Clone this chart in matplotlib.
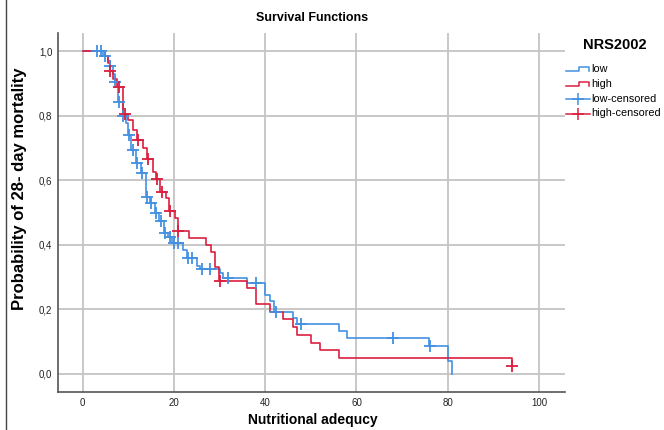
import matplotlib
matplotlib.use("Agg")
import matplotlib.pyplot as plt
from matplotlib.ticker import FuncFormatter

plt.rcParams['font.family'] = ['Liberation Sans', 'DejaVu Sans']

# Kaplan-Meier steps (time, survival after the step)
low_t = [0, 4.5, 5.6, 6.0, 6.6, 7.0, 7.8, 8.8, 9.6, 10.0, 10.7, 11.7, 12.7, 13.8,
         14.8, 15.8, 16.8, 17.8, 18.8, 19.6, 21.9, 22.8, 25.1, 25.8, 30.0, 30.7,
         36.0, 40.0, 41.1, 42.0, 46.0, 46.9, 56.1, 58.0, 76.0, 80.0, 80.9]
low_s = [1.0, 0.985, 0.970, 0.954, 0.930, 0.905, 0.841, 0.800, 0.776, 0.740, 0.695,
         0.652, 0.621, 0.549, 0.530, 0.499, 0.475, 0.435, 0.425, 0.405, 0.384, 0.358,
         0.334, 0.325, 0.314, 0.296, 0.281, 0.245, 0.227, 0.193, 0.172, 0.154, 0.133,
         0.110, 0.085, 0.041, 0.0]
low_cens_t = [3.2, 4.0, 4.9, 6.1, 7.1, 8.0, 8.9, 10.2, 11.0, 12.0, 13.1, 14.0, 15.0,
              16.0, 17.2, 18.0, 19.1, 20.0, 20.9, 23.0, 23.9, 26.1, 27.9, 31.9, 38.0,
              42.3, 47.9, 68.0, 76.2]
low_cens_s = [1.0, 1.0, 0.985, 0.954, 0.905, 0.841, 0.800, 0.740, 0.695, 0.652, 0.621,
              0.549, 0.530, 0.499, 0.475, 0.435, 0.425, 0.405, 0.405, 0.358, 0.358,
              0.325, 0.325, 0.296, 0.281, 0.193, 0.154, 0.110, 0.085]

high_t = [0, 4.9, 5.6, 5.9, 6.6, 7.5, 8.9, 10.0, 11.0, 12.0, 13.2, 14.0, 15.4, 16.0,
          17.0, 18.3, 19.0, 20.2, 20.8, 23.2, 27.0, 28.1, 29.0, 29.8, 36.0, 38.0,
          41.1, 44.0, 46.0, 46.9, 50.0, 52.0, 56.1, 94.0]
high_s = [1.0, 0.985, 0.962, 0.939, 0.915, 0.889, 0.805, 0.786, 0.755, 0.724, 0.700,
          0.665, 0.626, 0.603, 0.565, 0.544, 0.505, 0.482, 0.444, 0.420, 0.400, 0.378,
          0.332, 0.288, 0.265, 0.217, 0.193, 0.169, 0.145, 0.121, 0.097, 0.074, 0.050,
          0.025]
high_cens_t = [6.0, 8.0, 9.3, 12.2, 14.3, 16.2, 17.3, 19.1, 21.0, 30.0, 94.0]
high_cens_s = [0.939, 0.889, 0.805, 0.724, 0.665, 0.603, 0.565, 0.505, 0.444, 0.288, 0.025]

blue = '#4390e2'
red = '#db1f3f'
W, H = 664, 430

fig = plt.figure(figsize=(W / 100, H / 100), dpi=100)
ax = fig.add_axes([58 / W, 1 - 392 / H, (565 - 58) / W, (392 - 33) / H])

ax.step(low_t, low_s, where='post', color=blue, lw=1.2, zorder=3)
ax.step(high_t, high_s, where='post', color=red, lw=1.2, zorder=3)
ax.plot(low_cens_t, low_cens_s, ls='none', marker='+', ms=8, mew=1.3, color=blue, zorder=4)
ax.plot(high_cens_t, high_cens_s, ls='none', marker='+', ms=8, mew=1.3, color=red, zorder=4)

ax.set_xlim(-5.4, 105.7)
ax.set_ylim(-0.056, 1.056)
ax.set_xticks([0, 20, 40, 60, 80, 100])
ax.set_yticks([0, 0.2, 0.4, 0.6, 0.8, 1.0])
ax.yaxis.set_major_formatter(FuncFormatter(lambda v, p: f"{v:.1f}".replace('.', ',')))
ax.tick_params(length=0, labelsize=7, pad=4, colors='#222222')
ax.grid(True, color='#c4c4c4', lw=1.3)
ax.set_axisbelow(True)
for s in ['top', 'right']:
    ax.spines[s].set_visible(False)
for s in ['left', 'bottom']:
    ax.spines[s].set_color('#555555')
    ax.spines[s].set_linewidth(1.2)

# texts and legend drawn in pixel coordinates
ov = fig.add_axes([0, 0, 1, 1])
ov.set_xlim(0, W)
ov.set_ylim(H, 0)
ov.axis('off')

ov.text(312, 18, 'Survival Functions', ha='center', va='center', fontsize=9, fontweight='bold')
ov.text(313, 420, 'Nutritional adequcy', ha='center', va='center', fontsize=10, fontweight='bold')
ov.text(20, 189, 'Probability of 28- day mortality', ha='center', va='center',
        rotation=90, fontsize=12, fontweight='bold')
ov.plot([6, 6], [0, H], color='#444444', lw=1)

ov.text(615, 45, 'NRS2002', ha='center', va='center', fontsize=10.5, fontweight='bold')
ov.plot([566, 579, 579, 589, 589], [71, 71, 67, 67, 71], color=blue, lw=1.1)
ov.plot([566, 579, 579, 589, 589], [86, 86, 82, 82, 86], color=red, lw=1.1)
ov.plot([566, 590], [99, 99], color=blue, lw=1.1)
ov.plot([578], [99], marker='+', ms=9, mew=1.1, color=blue)
ov.plot([566, 590], [113.5, 113.5], color=red, lw=1.1)
ov.plot([578], [113.5], marker='+', ms=9, mew=1.1, color=red)
for y, lab in zip([69, 84, 99, 113.5], ['low', 'high', 'low-censored', 'high-censored']):
    ov.text(591, y, lab, ha='left', va='center', fontsize=7.8)

fig.savefig('out.png', dpi=100)
